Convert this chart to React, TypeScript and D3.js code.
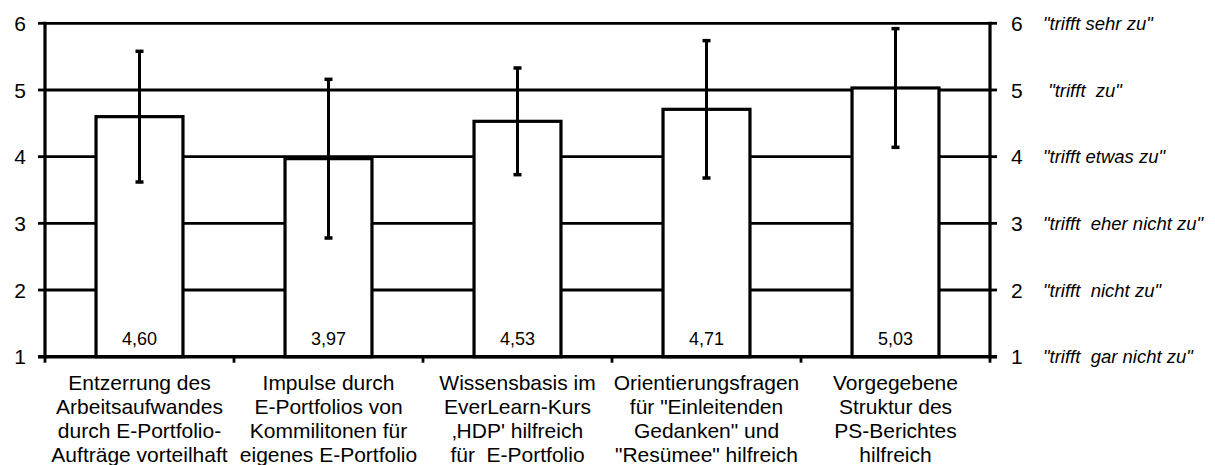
import React from "react";
import * as d3 from "d3";

const categories: string[][] = [
  ["Entzerrung des", "Arbeitsaufwandes", "durch E-Portfolio-", "Aufträge vorteilhaft"],
  ["Impulse durch", "E-Portfolios von", "Kommilitonen für", "eigenes E-Portfolio"],
  ["Wissensbasis im", "EverLearn-Kurs", "‚HDP' hilfreich", "für  E-Portfolio"],
  ["Orientierungsfragen", "für \"Einleitenden", "Gedanken\" und", "\"Resümee\" hilfreich"],
  ["Vorgegebene", "Struktur des", "PS-Berichtes", "hilfreich"],
];
const means: number[] = [4.6, 3.97, 4.53, 4.71, 5.03];
const sds: number[] = [0.98, 1.19, 0.8, 1.03, 0.89];
const yTicks: number[] = [1, 2, 3, 4, 5, 6];
const rightLabels: string[] = [
  "\"trifft  gar nicht zu\"",
  "\"trifft  nicht zu\"",
  "\"trifft  eher nicht zu\"",
  "\"trifft etwas zu\"",
  " \"trifft  zu\"",
  "\"trifft sehr zu\"",
];

const W = 1215;
const H = 465;
const left = 45;
const right = 990;
const top = 23.3;
const bottom = 356.7;
const FONT = "'Liberation Sans', Arial, sans-serif";

const locale = d3.formatLocale({ decimal: ",", thousands: ".", grouping: [3], currency: ["", "€"] });
const fmt = locale.format(".2f");

export default function App() {
  const idx = categories.map((_, i) => String(i));
  const x = d3.scaleBand<string>().domain(idx).range([left, right]).paddingInner(0.54).paddingOuter(0.27);
  const xs = d3.scaleBand<string>().domain(idx).range([left, right]).padding(0);
  const y = d3.scaleLinear().domain([1, 6]).range([bottom, top]);
  const bw = x.bandwidth();
  const boundaries = [...idx.map((k) => xs(k) as number), right];

  return (
    <svg width={W} height={H} style={{ position: "absolute", left: 0, top: 0, background: "#fff" }} fontFamily={FONT}>
      {yTicks.filter((t) => t > 1).map((t) => (
        <line key={"g" + t} x1={left} x2={right} y1={y(t)} y2={y(t)} stroke="#000" strokeWidth={2.8} />
      ))}
      {means.map((m, i) => (
        <rect key={"b" + i} x={x(String(i))} y={y(m)} width={bw} height={y(1) - y(m)} fill="#fff" stroke="#000" strokeWidth={3.2} />
      ))}
      {means.map((m, i) => {
        const cx = (x(String(i)) as number) + bw / 2;
        return (
          <g key={"e" + i}>
            <line x1={cx} x2={cx} y1={y(m + sds[i])} y2={y(m - sds[i])} stroke="#000" strokeWidth={3} />
            <line x1={cx - 4} x2={cx + 4} y1={y(m + sds[i])} y2={y(m + sds[i])} stroke="#000" strokeWidth={3.5} />
            <line x1={cx - 4} x2={cx + 4} y1={y(m - sds[i])} y2={y(m - sds[i])} stroke="#000" strokeWidth={3.5} />
          </g>
        );
      })}
      {means.map((m, i) => (
        <text key={"v" + i} x={(x(String(i)) as number) + bw / 2} y={344.5} textAnchor="middle" fontSize={18} fill="#000">
          {fmt(m)}
        </text>
      ))}
      <line x1={left} x2={left} y1={top - 1.5} y2={bottom + 1.5} stroke="#000" strokeWidth={3.2} />
      <line x1={right} x2={right} y1={top - 1.5} y2={bottom + 1.5} stroke="#000" strokeWidth={3.2} />
      <line x1={left - 7} x2={right + 7} y1={bottom} y2={bottom} stroke="#000" strokeWidth={3.5} />
      {yTicks.map((t) => (
        <g key={"t" + t}>
          <line x1={left - 7} x2={left} y1={y(t)} y2={y(t)} stroke="#000" strokeWidth={2.8} />
          <line x1={right} x2={right + 7} y1={y(t)} y2={y(t)} stroke="#000" strokeWidth={2.8} />
          <text x={26} y={y(t)} dy="0.36em" textAnchor="end" fontSize={21} fill="#000">{t}</text>
          <text x={1011} y={y(t)} dy="0.36em" textAnchor="start" fontSize={21} fill="#000">{t}</text>
          <text x={1043} y={y(t)} dy="0.36em" textAnchor="start" fontSize={18.5} fontStyle="italic" fill="#000" style={{ whiteSpace: "pre" }}>
            {rightLabels[t - 1]}
          </text>
        </g>
      ))}
      {boundaries.map((b, i) => (
        <line key={"xt" + i} x1={b} x2={b} y1={bottom} y2={bottom + 6} stroke="#000" strokeWidth={2.8} />
      ))}
      {categories.map((lines, i) => (
        <text key={"c" + i} textAnchor="middle" fontSize={21} fill="#000" style={{ whiteSpace: "pre" }}>
          {lines.map((ln, j) => (
            <tspan key={j} x={(xs(String(i)) as number) + xs.bandwidth() / 2} y={389.5 + j * 24}>{ln}</tspan>
          ))}
        </text>
      ))}
    </svg>
  );
}
